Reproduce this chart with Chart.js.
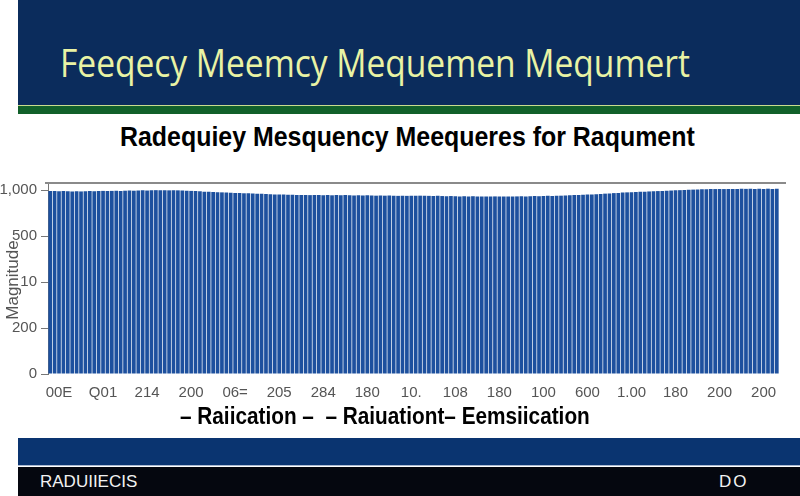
<!DOCTYPE html>
<html lang="en">
<head>
  <meta charset="UTF-8" />
  <title>Feeqecy Meemcy Mequemen Mequmert</title>
  <script src="https://cdn.jsdelivr.net/npm/chart.js"></script>
  <style>
    html, body {
      margin: 0;
      padding: 0;
      width: 800px;
      height: 496px;
      overflow: hidden;
      background: #ffffff;
      font-family: 'Liberation Sans', sans-serif;
    }

    .header {
      position: absolute;
      left: 18px;
      top: 0;
      width: 782px;
      height: 105px;
      background: #0b2c5c;
    }

    .fit {
      position: absolute;
      display: inline-block;
      white-space: nowrap;
      transform-origin: 0 0;
    }

    .title {
      left: 60px;
      top: 39px;
      font-family: 'Open Sans', sans-serif;
      font-weight: 400;
      font-size: 38px;
      line-height: 46px;
      color: #e9f3a4;
    }

    .stripe {
      position: absolute;
      left: 18px;
      top: 105px;
      width: 782px;
      height: 8px;
      background: #11602a;
      border-top: 1px solid #c9dc8e;
    }

    .subtitle {
      left: 120px;
      top: 121px;
      font-weight: bold;
      font-size: 27px;
      line-height: 32px;
      color: #000;
    }

    .chart-box {
      position: absolute;
      left: 0;
      top: 165px;
      width: 800px;
      height: 243px;
    }

    .y-title {
      position: absolute;
      left: -42px;
      top: 270px;
      width: 110px;
      text-align: center;
      transform: rotate(-90deg);
      font-size: 17px;
      color: #555;
      white-space: nowrap;
    }

    .legend {
      left: 180px;
      top: 402px;
      font-weight: bold;
      font-size: 23px;
      line-height: 28px;
      color: #000;
    }

    .footer-band {
      position: absolute;
      left: 18px;
      top: 438px;
      width: 782px;
      height: 27px;
      background: #0a3470;
      border-bottom: 1px solid #a9b8d0;
    }

    .footer {
      position: absolute;
      left: 18px;
      top: 467px;
      width: 782px;
      height: 29px;
      background: #05070f;
      color: #f2f2f2;
      font-size: 17px;
    }

    .footer .left { position: absolute; left: 22px; top: 5px; }
    .footer .right { position: absolute; left: 701px; top: 5px; letter-spacing: 2px; }
  </style>
</head>
<body>

  <div class="header"></div>
  <div class="fit title" data-w="630">Feeqecy Meemcy Mequemen Mequmert</div>
  <div class="stripe"></div>
  <div class="fit subtitle" data-w="575">Radequiey Mesquency Meequeres for Raqument</div>

  <div class="chart-box"><canvas id="freqChart"></canvas></div>
  <div class="y-title">Magnitude</div>

  <div class="fit legend" data-w="410">&#8211; Raiication &#8211; &nbsp;&#8211; Raiuationt&#8211; Eemsiication</div>

  <div class="footer-band"></div>
  <div class="footer"><span class="left">RADUIIECIS</span><span class="right">DO</span></div>

  <script>
    // x tick labels, one every 10 bars starting at bar 2
    const xTickLabels = ["00E", "Q01", "214", "200", "06=", "205", "284", "180", "10.",
                         "108", "180", "100", "600", "1.00", "180", "200", "200"];

    // y tick labels as printed on the picture, keyed by tick value
    const yTickValues = [0, 250, 500, 750, 1000];
    const yTickLabels = ["0", "200", "10", "500", "1,000"];

    // measured level per bar (166 bars)
    const levels = [
      997, 996, 995, 996, 995, 994, 995, 994, 995, 996, 995,
      996, 997, 996, 997, 998, 997, 998, 999, 998, 999, 1000, 999, 1000, 1001, 1000,
      1001, 1000, 1001, 1000, 999, 998, 997, 996, 995, 993,
      992, 991, 990, 989, 988, 987, 986, 985, 984, 984, 983, 982, 981, 980, 979,
      978, 978, 977, 976, 976, 975, 975, 974, 974, 975, 974, 973, 974, 973, 974,
      973, 974, 973, 972, 973, 972, 973, 972, 971, 972, 971, 972, 971, 970, 971, 970, 971, 970, 971, 970,
      970, 969, 970, 969, 968, 969, 968, 967, 968, 967, 968, 967, 966, 967, 966, 967, 966, 967, 966, 967,
      967, 968, 967, 968, 969, 968, 969, 970, 969, 970, 971, 972, 973, 974, 975, 976, 977, 978, 979, 980,
      982, 983, 985, 986, 988, 989, 990, 991, 992, 993, 994, 995, 996, 997, 998, 999, 1000, 1001, 1002, 1003,
      1004, 1005, 1006, 1006, 1007, 1007, 1008, 1007, 1008, 1007, 1008, 1009, 1008, 1009, 1008, 1009, 1008, 1009, 1008, 1009
    ];

    const barLabels = levels.map((v, i) => "f" + i);

    // squeeze the condensed headings to the widths seen in the picture
    document.querySelectorAll(".fit").forEach(el => {
      const target = +el.dataset.w;
      el.style.transform = "scaleX(" + (target / el.offsetWidth) + ")";
    });

    // grey rule along the top of the plot
    const topRule = {
      id: "topRule",
      afterDraw(chart) {
        const { ctx, chartArea } = chart;
        ctx.save();
        ctx.strokeStyle = "#8a8a8a";
        ctx.lineWidth = 2;
        ctx.beginPath();
        ctx.moveTo(chartArea.left - 3, chartArea.top);
        ctx.lineTo(chartArea.right + 7, chartArea.top);
        ctx.stroke();
        ctx.restore();
      }
    };

    const ctx = document.getElementById("freqChart").getContext("2d");
    new Chart(ctx, {
      type: "bar",
      data: {
        labels: barLabels,
        datasets: [{
          label: "Raiication",
          data: levels,
          backgroundColor: "#1d509e",
          borderWidth: 0,
          barPercentage: 0.84,
          categoryPercentage: 1.0
        }]
      },
      options: {
        responsive: true,
        maintainAspectRatio: false,
        animation: false,
        layout: { padding: { top: 18, right: 21, left: 0, bottom: 4 } },
        plugins: {
          legend: { display: false },
          tooltip: { enabled: false }
        },
        scales: {
          x: {
            grid: { display: false },
            border: { display: false },
            ticks: {
              autoSkip: false,
              maxRotation: 0,
              minRotation: 0,
              padding: 2,
              color: "#555",
              font: { family: "'Liberation Sans', sans-serif", size: 15 },
              callback: (val, i) => (i % 10 === 2 ? xTickLabels[(i - 2) / 10] : "")
            }
          },
          y: {
            min: 0,
            max: 1040,
            afterBuildTicks: axis => {
              axis.ticks = yTickValues.map(v => ({ value: v }));
            },
            afterFit: axis => { axis.width = 48; },
            grid: { drawOnChartArea: false, tickLength: 7, color: "#777" },
            border: { color: "#777", width: 1 },
            ticks: {
              padding: 4,
              color: "#555",
              font: { family: "'Liberation Sans', sans-serif", size: 15 },
              callback: val => {
                const k = yTickValues.indexOf(val);
                return k >= 0 ? yTickLabels[k] : "";
              }
            }
          }
        }
      },
      plugins: [topRule]
    });
  </script>

</body>
</html>
